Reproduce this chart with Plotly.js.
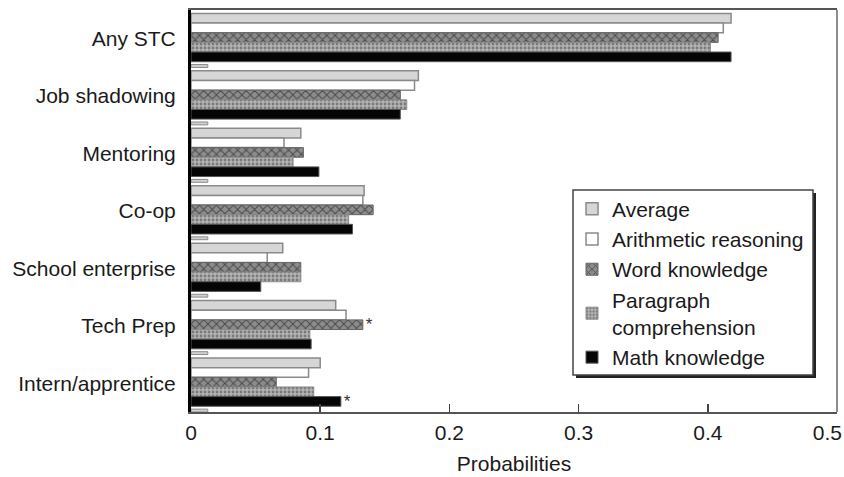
<!DOCTYPE html>
<html>
<head>
<meta charset="utf-8">
<script src="https://cdn.plot.ly/plotly-3.0.1.min.js"></script>
<style>
  html, body { margin: 0; padding: 0; background: #fff; }
  #chart { width: 844px; height: 477px; }
</style>
</head>
<body>
<div id="chart"></div>
<script>
// Probability of participating in each school-to-career (STC) activity,
// by test-score measure.
const categories = ['Any STC', 'Job shadowing', 'Mentoring', 'Co-op',
                    'School enterprise', 'Tech Prep', 'Intern/apprentice'];
const average    = [0.418, 0.176, 0.085, 0.134, 0.071, 0.112, 0.100];
const arithmetic = [0.412, 0.173, 0.072, 0.133, 0.059, 0.120, 0.091];
const word       = [0.408, 0.162, 0.087, 0.141, 0.085, 0.133, 0.066];
const paragraph  = [0.402, 0.167, 0.079, 0.122, 0.085, 0.092, 0.095];
const math       = [0.418, 0.162, 0.099, 0.125, 0.054, 0.093, 0.116];
// short stub bar at the foot of every group
const stub       = [0.013, 0.013, 0.013, 0.013, 0.013, 0.013, 0.013];
// significance markers
const wordMarks  = ['', '', '', '', '', '*', ''];
const mathMarks  = ['', '', '', '', '', '', '*'];
const xTicks     = [0, 0.1, 0.2, 0.3, 0.4, 0.5];
const xTickText  = ['0', '0.1', '0.2', '0.3', '0.4', '0.5'];

const FONT = 'Liberation Sans, Arial, sans-serif';
const TEXT = { family: FONT, size: 21, color: '#1a1a1a' };
const BAR_W = 0.168;
const START = -0.44;

function barTrace(name, values, i, style, marks) {
  return {
    type: 'bar',
    orientation: 'h',
    name: name,
    y: categories,
    x: values,
    offset: START + i * BAR_W,
    width: BAR_W,
    legendgroup: 'g' + i,
    marker: style,
    text: marks || null,
    textposition: 'outside',
    constraintext: 'none',
    textfont: { family: FONT, size: 17, color: '#333' },
    cliponaxis: false,
    hoverinfo: 'x+name'
  };
}

const traces = [
  barTrace('Average', average, 0,
    { color: '#d6d6d6', line: { color: '#8a8a8a', width: 1.5 } }),
  barTrace('Arithmetic reasoning', arithmetic, 1,
    { color: '#ffffff', line: { color: '#8a8a8a', width: 1.5 } }),
  barTrace('Word knowledge', word, 2,
    { color: '#8c8c8c', line: { color: '#666', width: 1 },
      pattern: { shape: 'x', fgcolor: '#4a4a4a', bgcolor: '#8c8c8c', size: 6, solidity: 0.3 } }, wordMarks),
  barTrace('Paragraph<br>comprehension', paragraph, 3,
    { color: '#ababab', line: { color: '#8a8a8a', width: 1 },
      pattern: { shape: '.', fgcolor: '#7a7a7a', bgcolor: '#b4b4b4', size: 4, solidity: 0.4 } }),
  barTrace('Math knowledge', math, 4,
    { color: '#050505', line: { color: '#555', width: 1 } }, mathMarks),
  {
    type: 'bar', orientation: 'h', name: 'stub', showlegend: false,
    xaxis: 'x2',
    y: categories, x: stub, offset: 0.45, width: 0.05,
    marker: { color: '#d0d0d0', line: { color: '#8a8a8a', width: 1 } },
    hoverinfo: 'skip'
  }
];

const layout = {
  width: 844, height: 477,
  margin: { l: 191, r: 7, t: 10, b: 65 },
  paper_bgcolor: '#fff',
  plot_bgcolor: '#fff',
  barmode: 'overlay',
  font: TEXT,
  xaxis: {
    range: [0, 0.5],
    tickvals: xTicks.slice(0, 5),
    ticktext: xTickText.slice(0, 5),
    ticks: 'inside',
    ticklen: 8,
    tickwidth: 1.5,
    tickcolor: '#444',
    ticklabelstandoff: 1,
    showgrid: false,
    zeroline: false,
    showline: true,
    mirror: true,
    linecolor: '#555',
    linewidth: 2,
    tickfont: TEXT,
    title: { text: 'Probabilities', standoff: 13, font: TEXT }
  },
  // the end label sits flush against the right edge of the frame
  xaxis2: {
    overlaying: 'x',
    anchor: 'y',
    side: 'bottom',
    range: [0, 0.5],
    tickvals: xTicks.slice(5),
    ticktext: xTickText.slice(5),
    ticks: '',
    ticklabelposition: 'outside left',
    ticklabelshift: 5,
    ticklabelstandoff: 6,
    ticklabeloverflow: 'allow',
    showgrid: false,
    zeroline: false,
    showline: false,
    tickfont: TEXT
  },
  yaxis: {
    type: 'category',
    range: [6.5, -0.5],
    ticks: '',
    ticklabelstandoff: 8,
    showgrid: false,
    zeroline: false,
    showline: true,
    linecolor: '#000',
    linewidth: 3,
    tickfont: TEXT
  },
  showlegend: true,
  legend: {
    x: 0.5898, xanchor: 'left',
    y: 0.556, yanchor: 'top',
    bgcolor: 'rgba(0,0,0,0)',
    borderwidth: 0,
    traceorder: 'normal',
    tracegroupgap: 3,
    font: TEXT
  },
  shapes: [
    // right frame edge
    { type: 'line', xref: 'paper', yref: 'paper', x0: 1, x1: 1, y0: 0, y1: 1,
      line: { color: '#666', width: 1.5 } },
    // legend box shadow
    { type: 'rect', xref: 'paper', yref: 'paper',
      x0: (576 - 191) / 646, x1: (816 - 191) / 646,
      y0: (412 - 378) / 402, y1: (412 - 193) / 402,
      fillcolor: '#222', line: { width: 0 }, layer: 'above' },
    // legend box
    { type: 'rect', xref: 'paper', yref: 'paper',
      x0: (573 - 191) / 646, x1: (813 - 191) / 646,
      y0: (412 - 375) / 402, y1: (412 - 190) / 402,
      fillcolor: '#fff', line: { color: '#444', width: 1.5 }, layer: 'above' }
  ]
};

Plotly.newPlot('chart', traces, layout, { staticPlot: true, displayModeBar: false });
</script>
</body>
</html>
